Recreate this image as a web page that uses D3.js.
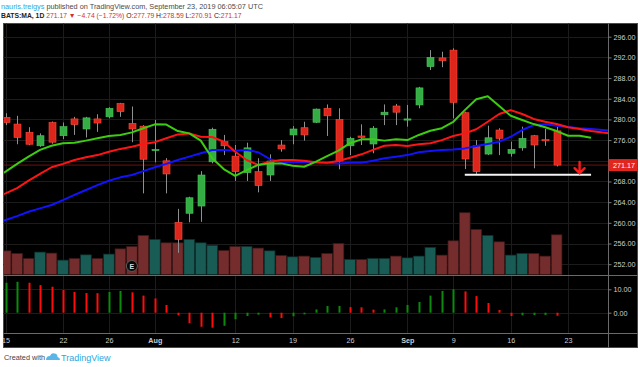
<!DOCTYPE html>
<html><head><meta charset="utf-8">
<script src="https://cdn.jsdelivr.net/npm/d3@7"></script>
<style>
html,body{margin:0;padding:0;background:#fff;}
svg{display:block;font-family:"Liberation Sans",Arial,sans-serif;}
</style></head><body><svg id="c" width="640" height="367"></svg>
<script>
// ---------------- DATA ----------------
const dates = ["2019-07-15","2019-07-16","2019-07-17","2019-07-18","2019-07-19",
"2019-07-22","2019-07-23","2019-07-24","2019-07-25","2019-07-26",
"2019-07-29","2019-07-30","2019-07-31","2019-08-01","2019-08-02",
"2019-08-05","2019-08-06","2019-08-07","2019-08-08","2019-08-09",
"2019-08-12","2019-08-13","2019-08-14","2019-08-15","2019-08-16",
"2019-08-19","2019-08-20","2019-08-21","2019-08-22","2019-08-23",
"2019-08-26","2019-08-27","2019-08-28","2019-08-29","2019-08-30",
"2019-09-03","2019-09-04","2019-09-05","2019-09-06",
"2019-09-09","2019-09-10","2019-09-11","2019-09-12","2019-09-13",
"2019-09-16","2019-09-17","2019-09-18","2019-09-19","2019-09-20"];
const futureDates = ["2019-09-23","2019-09-24","2019-09-25","2019-09-26","2019-09-27","2019-09-30","2019-10-01","2019-10-02"];

const open  = [280.4,279.1,277.5,274.9,279.4,276.85,280.1,278.15,280.1,280.5,283.1,279.25,278.7,274.0,272.0,260.1,261.85,263.25,271.8,275.7,272.9,269.7,269.9,269.25,275.05,277.0,278.4,279.45,282.15,280.0,274.9,276.8,275.25,280.9,282.6,280.0,282.8,290.2,291.9,293.4,281.3,274.9,273.3,277.95,273.45,274.5,276.85,276.1,277.79];
const high  = [281.2,280.7,278.5,277.3,279.6,279.4,280.5,280.5,281.0,282.35,283.2,282.5,278.9,279.9,272.5,262.7,265.05,270.0,278.4,277.0,275.05,275.5,272.5,273.25,276.0,278.7,279.55,282.1,282.9,282.15,276.65,279.05,278.7,282.9,283.0,282.8,286.3,293.4,293.1,293.75,281.5,276.0,278.8,278.3,275.7,278.6,277.0,278.15,278.59];
const low   = [278.9,275.2,275.0,274.7,275.3,276.2,277.0,276.5,277.6,280.2,280.5,275.6,265.7,271.7,265.7,254.2,260.1,260.2,271.5,273.1,268.1,268.1,265.9,268.1,273.75,275.2,275.9,279.3,276.8,270.35,273.1,275.05,273.45,278.9,278.9,278.6,282.15,289.55,290.1,280.2,270.4,269.45,273.1,273.1,272.8,273.95,270.55,274.9,270.91];
const close = [279.4,276.5,275.2,276.85,275.6,278.6,279.0,280.3,279.3,282.15,281.5,278.15,272.3,274.2,269.45,256.8,264.85,269.25,278.1,274.9,269.9,274.5,267.2,271.95,274.3,278.15,277.0,282.0,280.7,271.95,276.35,276.5,278.3,281.4,281.4,280.1,286.1,292.0,291.35,283.3,272.35,269.9,276.45,276.35,274.2,276.35,275.05,275.91,271.17];
// volume, millions
const volume = [2.83,2.52,1.92,2.68,2.56,1.72,1.92,2.35,1.92,2.44,3.07,3.36,4.68,4.2,3.79,3.79,4.2,3.79,3.48,2.88,3.36,3.36,3.16,2.83,2.28,2.11,2.2,2.04,2.52,3.72,1.8,1.8,1.92,1.92,2.2,1.99,2.2,3.24,2.32,4.03,7.39,5.4,4.68,3.91,2.32,2.52,2.52,2.2,4.75];
// oscillator histogram
const osc = [12.8,13.2,12.8,11.8,11.1,9.7,8.85,8.4,8.35,8.85,9.3,8.7,7.3,6.1,3.3,-1.1,-4.5,-6.0,-6.4,-5.6,-2.8,-1.4,-0.85,-2.0,-2.3,-1.5,-0.7,1.4,2.85,2.9,2.4,2.3,1.3,1.4,2.3,3.3,4.6,7.3,9.3,10.0,9.1,7.1,4.15,1.15,-1.4,-1.1,-1.0,-0.95,-1.3];
// displaced moving averages (Alligator), first value belongs to the bar before the first date
const maFirstOffset = -1;
const jaw = [259.8,260.55,261.3,262.15,262.8,263.45,264.4,265.4,266.35,267.3,268.15,268.8,269.25,270.0,270.75,271.4,272.15,272.8,273.45,274.1,274.1,273.95,274.1,273.65,272.35,271.7,271.7,271.8,271.7,271.6,271.5,271.6,271.6,272.0,272.5,272.8,273.1,273.65,273.9,274.1,274.2,274.4,274.85,275.25,275.7,276.65,277.95,278.9,279.05,278.8,278.55,278.3,278.15,277.95,277.75];
const teeth = [264.8,265.7,266.7,268.15,269.45,270.75,271.4,272.15,272.7,273.1,273.75,274.3,274.7,275.25,275.6,276.35,277.1,277.3,276.65,276.6,275.7,273.75,272.15,271.2,271.8,272.15,272.15,272.0,271.7,271.6,271.95,272.6,273.25,274.1,274.9,275.05,274.85,275.2,275.4,276.0,276.8,277.3,278.1,279.55,281.05,281.8,281.05,280.1,279.55,279.1,278.5,278.15,277.75,277.45,277.2];
const lips = [268.5,269.9,271.4,272.8,274.1,274.9,275.4,275.5,275.9,276.35,276.8,277.0,277.5,278.3,279.05,279.0,277.75,277.3,275.9,272.5,270.4,269.1,270.2,271.2,271.5,271.5,271.05,270.85,271.8,272.9,273.95,275.4,276.15,276.15,275.9,276.15,276.0,277.0,277.8,278.3,279.55,281.8,283.9,284.5,282.6,280.7,279.9,279.1,278.5,277.75,276.85,276.85,276.45];

const priceTicks = [252,256,260,264,268,272,276,280,284,288,292,296];
const oscTicks = [0,10];
const timeTickDates = ["2019-07-15","2019-07-22","2019-07-26","2019-08-01","2019-08-12","2019-08-19","2019-08-26","2019-09-03","2019-09-09","2019-09-16","2019-09-23"];
const timeTickLabels = ["15","22","26","Aug","12","19","26","Sep","9","16","23"];
const monthLabels = ["Aug","Sep"];
const lastPrice = 271.17;
const supportLevel = 269.3;
const supportFrom = "2019-09-10", supportTo = "2019-09-25";
const arrowDate = "2019-09-24", arrowTop = 271.8, arrowTip = 269.6;
const earningsDate = "2019-07-30";

// ---------------- LAYOUT ----------------
const L = 3.5, R = 637.5, T = 23.5, B = 347.5, AX = 608.5, P1 = 275.5, P2 = 333.5;
const allDates = dates.concat(futureDates);
const idx = d => allDates.indexOf(d);

const svg = d3.select("#c");
const x = d3.scaleLinear().domain([0, 49]).range([5.6, 568.1]);
const y = d3.scaleLinear().domain([252, 296]).range([264.2, 36.7]);
const yVol = d3.scaleLinear().domain([0, d3.max(volume)]).range([P1 - 1, 212.7]);
const yOsc = d3.scaleLinear().domain([0, 10]).range([312.7, 289.3]);
const step = x(1) - x(0);

// header
const h1 = svg.append("text").attr("x", 1).attr("y", 8.5).attr("font-size", 7.3);
h1.append("tspan").attr("fill", "#2ea6dc").text("nauris.treigys");
h1.append("tspan").attr("fill", "#4a4a4a").text(" published on TradingView.com, September 23, 2019 06:05:07 UTC");
const h2 = svg.append("text").attr("x", 1).attr("y", 18.3).attr("font-size", 6.8);
h2.append("tspan").attr("font-weight", "bold").attr("fill", "#222").text("BATS:MA, 1D");
h2.append("tspan").attr("fill", "#d0312d").text(" 271.17 ▼ −4.74 (−1.72%)");
[["O:", "277.79"], ["H:", "278.59"], ["L:", "270.91"], ["C:", "271.17"]].forEach(([k, v]) => {
  h2.append("tspan").attr("fill", "#222").text(" " + k);
  h2.append("tspan").attr("fill", "#d0312d").text(v);
});

// background
svg.append("rect").attr("x", L).attr("y", T).attr("width", R - L).attr("height", B - T)
  .attr("fill", "#000").attr("stroke", "#4a4a4a").attr("stroke-width", 1);

const defs = svg.append("defs");
defs.append("clipPath").attr("id", "mainClip").append("rect")
  .attr("x", L + 0.5).attr("y", T + 0.5).attr("width", AX - L - 0.5).attr("height", P1 - T - 0.5);
defs.append("clipPath").attr("id", "oscClip").append("rect")
  .attr("x", L + 0.5).attr("y", P1 + 0.5).attr("width", AX - L - 0.5).attr("height", P2 - P1 - 0.5);

const gridColor = "#1c1c1c";
svg.append("g").selectAll("line").data(timeTickDates).join("line")
  .attr("x1", d => Math.round(x(idx(d))) + 0.5).attr("x2", d => Math.round(x(idx(d))) + 0.5)
  .attr("y1", T).attr("y2", P2).attr("stroke", gridColor);
svg.append("g").selectAll("line").data(priceTicks).join("line")
  .attr("x1", L).attr("x2", AX).attr("y1", d => Math.round(y(d)) + 0.5).attr("y2", d => Math.round(y(d)) + 0.5)
  .attr("stroke", gridColor);
svg.append("g").selectAll("line").data(oscTicks).join("line")
  .attr("x1", L).attr("x2", AX).attr("y1", d => Math.round(yOsc(d)) + 0.5).attr("y2", d => Math.round(yOsc(d)) + 0.5)
  .attr("stroke", gridColor);

// main pane
const main = svg.append("g").attr("clip-path", "url(#mainClip)");
const bars = d3.range(dates.length);
const isUp = i => close[i] >= open[i];

// volume
main.append("g").selectAll("rect").data(bars).join("rect")
  .attr("x", i => x(i) - step / 2 + 0.4).attr("width", step - 0.8)
  .attr("y", i => yVol(volume[i])).attr("height", i => yVol(0) - yVol(volume[i]))
  .attr("fill", i => isUp(i) ? "#185c55" : "#742c2c")
  .attr("stroke", i => isUp(i) ? "#0c2e2b" : "#3a1616").attr("stroke-width", 0.7);

// earnings marker
const ex = x(idx(earningsDate));
main.append("circle").attr("cx", ex).attr("cy", 266).attr("r", 5.5)
  .attr("fill", "#0a0a0a").attr("stroke", "#5a5a5a").attr("stroke-width", 1);
main.append("text").attr("x", ex).attr("y", 268.6).attr("text-anchor", "middle")
  .attr("font-size", 7).attr("font-weight", "bold").attr("fill", "#ddd").text("E");

// last price line
main.append("line").attr("x1", L).attr("x2", AX).attr("y1", y(lastPrice)).attr("y2", y(lastPrice))
  .attr("stroke", "#6e0f0f").attr("stroke-width", 1);

// candles
const cg = main.append("g");
cg.selectAll("line").data(bars).join("line")
  .attr("x1", i => Math.round(x(i)) + 0.5).attr("x2", i => Math.round(x(i)) + 0.5)
  .attr("y1", i => y(high[i])).attr("y2", i => y(low[i]))
  .attr("stroke", "#8f8f8f").attr("stroke-width", 1);
cg.selectAll("rect").data(bars).join("rect")
  .attr("x", i => Math.round(x(i)) + 0.5 - 3.5).attr("width", 7)
  .attr("y", i => y(Math.max(open[i], close[i])))
  .attr("height", i => Math.max(1.2, Math.abs(y(open[i]) - y(close[i]))))
  .attr("fill", i => isUp(i) ? "#35ad45" : "#dc261c")
  .attr("stroke", i => isUp(i) ? "#4cc45a" : "#ff4a3a").attr("stroke-width", 0.6);

// MA lines
const maLine = arr => d3.line().x((d, k) => x(k + maFirstOffset)).y(d => y(d))(arr);
[[jaw, "#1212ff"], [teeth, "#ff1414"], [lips, "#3ccc10"]].forEach(([arr, col]) => {
  main.append("path").attr("d", maLine(arr)).attr("fill", "none")
    .attr("stroke", col).attr("stroke-width", 2).attr("stroke-linejoin", "round");
});

// support line
main.append("line").attr("x1", x(idx(supportFrom))).attr("x2", x(idx(supportTo)))
  .attr("y1", y(supportLevel)).attr("y2", y(supportLevel))
  .attr("stroke", "#f4f4f4").attr("stroke-width", 2);
// arrow
const ax0 = x(idx(arrowDate)), ayTop = y(arrowTop), ayTip = y(arrowTip);
main.append("path")
  .attr("d", `M${ax0},${ayTop}L${ax0},${ayTip}M${ax0 - 5},${ayTip - 5}L${ax0},${ayTip}L${ax0 + 5},${ayTip - 5}`)
  .attr("fill", "none").attr("stroke", "#ff1a1a").attr("stroke-width", 2.4).attr("stroke-linecap", "round");

// oscillator histogram
const og = svg.append("g").attr("clip-path", "url(#oscClip)");
og.selectAll("rect").data(bars).join("rect")
  .attr("x", i => Math.round(x(i)) - 0.5).attr("width", 2)
  .attr("y", i => Math.min(yOsc(osc[i]), yOsc(0)))
  .attr("height", i => Math.abs(yOsc(osc[i]) - yOsc(0)))
  .attr("fill", i => (i === 0 || osc[i] >= osc[i - 1]) ? "#0b8a0b" : "#ff0d0d");

// separators
const sepColor = "#6a6a6a";
svg.append("line").attr("x1", L).attr("x2", R).attr("y1", P1).attr("y2", P1).attr("stroke", sepColor);
svg.append("line").attr("x1", L).attr("x2", R).attr("y1", P2).attr("y2", P2).attr("stroke", sepColor);
svg.append("line").attr("x1", AX).attr("x2", AX).attr("y1", T).attr("y2", B).attr("stroke", sepColor);

// price axis (the label hidden behind the last-price tag is left out, tick kept)
const hiddenTick = priceTicks.find(t => Math.abs(y(t) - y(lastPrice)) < 8);
const priceAxis = d3.axisRight(y).tickValues(priceTicks).tickSize(3).tickPadding(2)
  .tickFormat(d => d === hiddenTick ? "" : d3.format(".2f")(d));
const pa = svg.append("g").attr("transform", `translate(${AX},0)`).call(priceAxis);
pa.select(".domain").remove();
pa.selectAll("line").attr("stroke", "#777");
pa.selectAll("text").attr("fill", "#cfcfcf").attr("font-size", 7.2).attr("font-family", "Liberation Sans, Arial, sans-serif");

const oscAxis = d3.axisRight(yOsc).tickValues(oscTicks).tickSize(3).tickPadding(2).tickFormat(d3.format(".2f"));
const oa = svg.append("g").attr("transform", `translate(${AX},0)`).call(oscAxis);
oa.select(".domain").remove();
oa.selectAll("line").attr("stroke", "#777");
oa.selectAll("text").attr("fill", "#cfcfcf").attr("font-size", 7.2).attr("font-family", "Liberation Sans, Arial, sans-serif");

// last price label
const ly = y(lastPrice);
svg.append("rect").attr("x", AX).attr("y", ly - 6).attr("width", R - AX).attr("height", 12).attr("fill", "#e0261e");
svg.append("text").attr("x", AX + 4.5).attr("y", ly + 2.5).attr("font-size", 7.2).attr("fill", "#fff").text(d3.format(".2f")(lastPrice));

// time axis
const timeAxis = d3.axisBottom(x).tickValues(timeTickDates.map(idx)).tickSize(0).tickPadding(4)
  .tickFormat((d, k) => timeTickLabels[k]);
const ta = svg.append("g").attr("transform", `translate(0,${P2})`).call(timeAxis);
ta.select(".domain").remove();
ta.selectAll("text").attr("fill", "#cfcfcf").attr("font-size", 7.2)
  .attr("font-family", "Liberation Sans, Arial, sans-serif")
  .attr("font-weight", (d, k) => monthLabels.includes(timeTickLabels[k]) ? "bold" : "normal");

// footer
const ft = svg.append("g");
ft.append("text").attr("x", 4).attr("y", 360).attr("font-size", 7.3).attr("fill", "#444").text("Created with");
ft.append("path").attr("d", "M46,360 q0,-4 4,-4 q1,-3.5 4.5,-2.5 q3,0.3 3,3.5 q2.5,0.3 2.5,3 z").attr("fill", "#5ab6e8");
ft.append("text").attr("x", 61).attr("y", 360.5).attr("font-size", 9).attr("fill", "#2ea6dc").text("TradingView");
</script></body></html>
